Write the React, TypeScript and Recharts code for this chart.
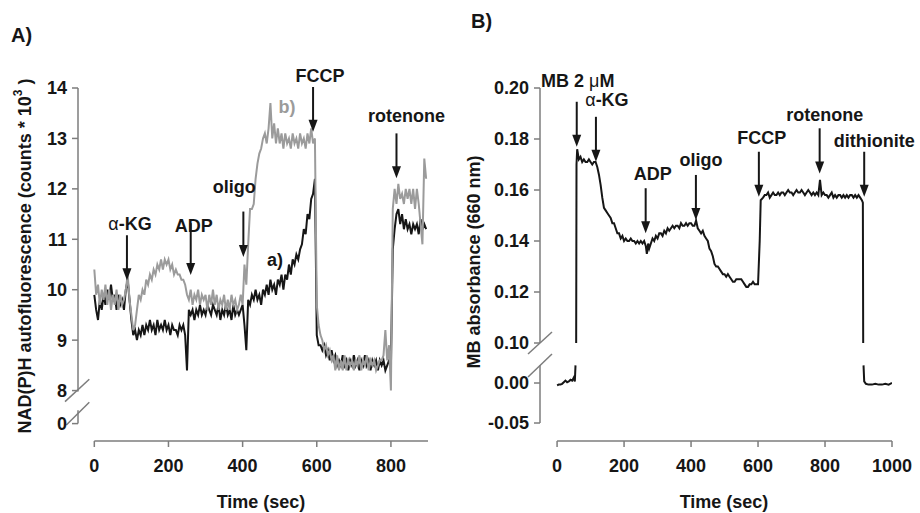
import React from 'react';
import { LineChart, Line, XAxis, YAxis, ReferenceLine } from 'recharts';

const FONT = '"Liberation Sans", Arial, Helvetica, sans-serif';
const AXIS = '#7d7d7d';
const INK = '#161616';
const GREY = '#9b9b9b';

// ---- Panel A: NAD(P)H autofluorescence, one reading every 5 s ----
const STEP_A = 5;
const traceAa = [
  9.9, 9.6, 9.4, 9.8, 9.6, 9.9, 9.7, 10.0, 9.8, 10.1,
  9.8, 9.9, 9.6, 9.9, 9.7, 9.8, 9.6, 10.0, 10.2, 9.8,
  9.4, 9.1, 9.2, 9.0, 9.2, 9.1, 9.3, 9.1, 9.3, 9.2,
  9.4, 9.2, 9.3, 9.1, 9.4, 9.2, 9.3, 9.2, 9.4, 9.2,
  9.3, 9.1, 9.3, 9.2, 9.2, 9.1, 9.3, 9.2, 9.3, 9.1,
  8.4, 9.6, 9.5, 9.6, 9.4, 9.6, 9.5, 9.7, 9.5, 9.6,
  9.5, 9.7, 9.6, 9.5, 9.7, 9.6, 9.5, 9.7, 9.4, 9.6,
  9.5, 9.7, 9.5, 9.6, 9.4, 9.7, 9.5, 9.6, 9.5, 9.6,
  9.7, 9.3, 8.8, 9.8, 9.7, 9.9, 9.8, 10.0, 9.8, 9.9,
  9.7, 10.0, 9.9, 10.1, 9.9, 10.2, 10.0, 10.1, 9.9, 10.2,
  10.1, 10.3, 10.0, 10.3, 10.2, 10.5, 10.3, 10.6, 10.5, 10.7,
  10.6, 10.8, 10.9, 11.2, 11.1, 11.5, 11.4, 11.8, 11.9, 12.2,
  9.1, 8.9, 8.9, 8.8, 8.9, 8.7, 8.8, 8.6, 8.8, 8.6,
  8.7, 8.5, 8.6, 8.5, 8.7, 8.5, 8.6, 8.4, 8.6, 8.5,
  8.7, 8.5, 8.6, 8.4, 8.6, 8.5, 8.7, 8.5, 8.6, 8.4,
  8.6, 8.5, 8.6, 8.4, 8.6, 8.5, 8.6, 8.4, 8.5, 8.6,
  8.5, 10.8, 11.2, 11.5, 11.6, 11.3, 11.5, 11.2, 11.4, 11.2,
  11.3, 11.1, 11.3, 11.2, 11.3, 11.1, 11.4, 11.2, 11.3, 11.2,
];
const traceAb = [
  10.4, 9.9, 10.1, 9.7, 10.0, 9.8, 10.1, 9.7, 10.0, 9.6,
  9.9, 9.7, 10.0, 9.6, 9.9, 9.7, 9.8, 10.0, 10.3, 9.8,
  9.5, 9.2, 9.3, 9.6, 9.9, 9.8, 10.0, 9.9, 10.2, 10.1,
  10.3, 10.2, 10.4, 10.3, 10.5, 10.4, 10.6, 10.4, 10.6, 10.5,
  10.6, 10.4, 10.5, 10.3, 10.4, 10.3, 10.3, 10.2, 10.2, 10.1,
  9.9, 9.8, 10.0, 9.7, 9.9, 9.8, 10.0, 9.7, 9.9, 9.8,
  9.9, 9.6, 9.9, 9.7, 10.0, 9.7, 9.9, 9.6, 9.8, 9.7,
  9.9, 9.6, 9.8, 9.6, 9.9, 9.7, 9.8, 9.6, 9.7, 9.9,
  9.7, 10.5, 10.1, 10.9, 11.6, 11.6, 11.7, 12.2, 12.5, 12.7,
  12.8, 13.0, 13.1, 12.9, 13.2, 13.7, 13.0, 13.3, 12.9, 13.2,
  12.9, 13.1, 12.8, 13.1, 12.9, 13.0, 12.8, 13.1, 12.9, 13.0,
  12.8, 13.1, 12.9, 13.0, 12.8, 13.1, 12.9, 13.2, 12.9, 13.0,
  9.7, 9.3, 9.1, 9.0, 8.8, 8.9, 8.7, 8.8, 8.6, 8.7,
  8.4, 8.7, 8.4, 8.6, 8.4, 8.7, 8.4, 8.6, 8.5, 8.6,
  8.4, 8.6, 8.5, 8.7, 8.4, 8.6, 8.5, 8.7, 8.4, 8.6,
  8.5, 8.6, 8.4, 8.5, 8.6, 8.6, 8.7, 9.2, 8.6, 8.9,
  8.0, 11.6, 12.0, 11.7, 12.1, 11.8, 11.9, 11.7, 12.0, 11.8,
  12.0, 11.7, 12.0, 11.6, 12.0, 11.7, 11.3, 10.9, 12.6, 12.2,
];
const xTicksA = [0, 200, 400, 600, 800];
const yTicksA = [0, 8, 9, 10, 11, 12, 13, 14];
const yTickLabelsA = ['0', '8', '9', '10', '11', '12', '13', '14'];

const arrowLabelsA = ['α-KG', 'ADP', 'oligo', 'FCCP', 'rotenone'];
const arrowTimesA = [88, 260, 402, 590, 815];
const arrowTopsA = [11.08, 11.32, 11.55, 14.02, 13.1];
const arrowTipsA = [10.19, 10.29, 10.65, 13.13, 12.21];

// ---- Panel B: methylene blue absorbance ----
const timeB = [
  0, 5, 10, 15, 20, 25, 30, 35, 40, 45,
  50, 53, 55, 56, 57, 58, 60, 65, 70, 75,
  80, 85, 90, 95, 100, 105, 110, 115, 120, 125,
  130, 135, 140, 145, 150, 155, 160, 165, 170, 175,
  180, 185, 190, 195, 200, 205, 210, 215, 220, 225,
  230, 235, 240, 245, 250, 255, 260, 265, 268, 272,
  275, 280, 285, 290, 295, 300, 305, 310, 315, 320,
  325, 330, 335, 340, 345, 350, 355, 360, 365, 370,
  375, 380, 385, 390, 395, 400, 405, 410, 415, 420,
  425, 430, 435, 440, 445, 450, 455, 460, 465, 470,
  475, 480, 485, 490, 495, 500, 505, 510, 515, 520,
  525, 530, 535, 540, 545, 550, 555, 560, 565, 570,
  575, 580, 585, 590, 595, 600, 605, 608, 615, 620,
  625, 630, 635, 640, 645, 650, 655, 660, 665, 670,
  675, 680, 685, 690, 695, 700, 705, 710, 715, 720,
  725, 730, 735, 740, 745, 750, 755, 760, 765, 770,
  775, 780, 785, 790, 795, 800, 805, 810, 815, 820,
  825, 830, 835, 840, 845, 850, 855, 860, 865, 870,
  875, 880, 885, 890, 895, 900, 905, 910, 913, 914,
  914.5, 915, 917, 922, 930, 940, 950, 960, 970, 980,
  990, 1000,
];
const valueB: (number | null)[] = [
  -0.003, -0.002, -0.002, -0.001, 0.001, 0.003, 0.001, 0.002, 0.004, 0.003,
  0.007, 0.002, 0.022, null, 0.1, 0.17, 0.176, 0.172, 0.173, 0.171,
  0.172, 0.171, 0.171, 0.172, 0.171, 0.17, 0.171, 0.171, 0.169, 0.166,
  0.162, 0.157, 0.153, 0.152, 0.151, 0.15, 0.149, 0.147, 0.147, 0.145,
  0.143, 0.143, 0.141, 0.142, 0.14, 0.141, 0.14, 0.14, 0.141, 0.14,
  0.14, 0.139, 0.14, 0.139, 0.14, 0.139, 0.14, 0.138, 0.135, 0.139,
  0.137, 0.139, 0.141, 0.14, 0.142, 0.141, 0.143, 0.143, 0.142, 0.144,
  0.143, 0.145, 0.144, 0.145, 0.146, 0.145, 0.146, 0.146, 0.145, 0.147,
  0.146, 0.146, 0.147, 0.146, 0.147, 0.147, 0.146, 0.146, 0.148, 0.145,
  0.144, 0.143, 0.144, 0.142, 0.141, 0.14, 0.137, 0.136, 0.134, 0.131,
  0.13, 0.13, 0.129, 0.128, 0.127, 0.127, 0.126, 0.127, 0.126, 0.125,
  0.124, 0.124, 0.125, 0.125, 0.125, 0.125, 0.124, 0.123, 0.122, 0.122,
  0.123, 0.123, 0.124, 0.123, 0.123, 0.123, 0.14, 0.156, 0.157, 0.158,
  0.158, 0.159, 0.157, 0.158, 0.159, 0.158, 0.158, 0.159, 0.158, 0.159,
  0.159, 0.158, 0.159, 0.16, 0.159, 0.159, 0.158, 0.159, 0.16, 0.159,
  0.159, 0.16, 0.159, 0.158, 0.159, 0.16, 0.159, 0.158, 0.159, 0.158,
  0.159, 0.158, 0.164, 0.158, 0.159, 0.158, 0.158, 0.157, 0.158, 0.159,
  0.157, 0.158, 0.157, 0.158, 0.158, 0.157, 0.158, 0.157, 0.158, 0.157,
  0.158, 0.158, 0.157, 0.158, 0.157, 0.158, 0.157, 0.156, 0.155, 0.1,
  null, 0.022, 0.002, -0.001, -0.002, -0.002, -0.001, -0.002, -0.002, -0.001,
  -0.002, 0.0,
];
const xTicksB = [0, 200, 400, 600, 800, 1000];
const yTicksB = [-0.05, 0, 0.1, 0.12, 0.14, 0.16, 0.18, 0.2];
const yTickLabelsB = ['-0.05', '0.00', '0.10', '0.12', '0.14', '0.16', '0.18', '0.20'];

const arrowLabelsB = ['MB 2 μM', 'α-KG', 'ADP', 'oligo', 'FCCP', 'rotenone', 'dithionite'];
const arrowTimesB = [58.7, 116, 264.5, 414.5, 602.5, 784, 917];
const arrowTopsB = [0.1946, 0.1887, 0.1607, 0.1659, 0.175, 0.1842, 0.175];
const arrowTipsB = [0.177, 0.1711, 0.143, 0.1482, 0.1574, 0.1665, 0.1574];

// label placement around each arrow top (px): horizontal shift, gap above
const labelDxA = [3, 3, -9, 7, 10];
const labelGapA = [5, -9, 19, 5, 11];
const labelDxB = [1, 11, 7, 5, 3, 5, 10];
const labelGapB = [15, 11, 8, 9, 8, 7, 5];

// broken axes: lower segments are squeezed under the break
const toA = (v: number) => (v < 4 ? 7.345 + v : v);
const toB = (v: number) => (v < 0.05 ? 0.08431 + v * 0.3137 : v);

const dataA = traceAa.map((a, i) => ({ t: i * STEP_A, a, b: traceAb[i] }));
const dataB = timeB.map((t, i) => ({ t, v: valueB[i] == null ? null : toB(valueB[i] as number) }));

const tickFont = { fontSize: 18, fontWeight: 700, fontFamily: FONT, fill: INK };

const pickLabel = (ticks: number[], labels: string[]) => (v: number) => {
    let best = 0;
    ticks.forEach((t, i) => {
        if (Math.abs(t - v) < Math.abs(ticks[best] - v)) best = i;
    });
    return labels[best];
};

const rich = (s: string) =>
    s.split(/([αμ])/).filter(Boolean).map((part, i) =>
        /[αμ]/.test(part)
            ? <tspan key={i} fontWeight="normal">{part}</tspan>
            : <tspan key={i}>{part}</tspan>
    );

function arrowShape(label: string, dx: number, gap: number) {
    return (p: any) => {
        const { x1, y1, x2, y2 } = p;
        const head = 12;
        return (
            <g>
                <line x1={x1} y1={y1} x2={x2} y2={y2 - head + 1} stroke={INK} strokeWidth={2} />
                <polygon points={`${x2 - 4.5},${y2 - head} ${x2 + 4.5},${y2 - head} ${x2},${y2}`} fill={INK} />
                <text x={x1 + dx} y={y1 - gap} textAnchor="middle" fontFamily={FONT} fontSize={18} fontWeight="bold" fill={INK}>
                    {rich(label)}
                </text>
            </g>
        );
    };
}

function PanelA() {
    const ticks = yTicksA.map(toA);
    return (
        <LineChart width={460} height={513} data={dataA} margin={{ top: 88, right: 32, bottom: 42, left: 18 }}>
            <XAxis
                dataKey="t"
                type="number"
                domain={[-44, 900]}
                ticks={xTicksA}
                interval={0}
                allowDataOverflow
                axisLine={false}
                tickLine={{ stroke: AXIS, strokeWidth: 1.5 }}
                tickSize={6}
                tickMargin={12}
                height={30}
                tick={tickFont}
            />
            <YAxis
                type="number"
                domain={[7, 14]}
                ticks={ticks}
                interval={0}
                allowDataOverflow
                axisLine={false}
                tickLine={{ stroke: AXIS, strokeWidth: 1.5 }}
                tickSize={6}
                tickMargin={5}
                width={60}
                tick={tickFont}
                tickFormatter={pickLabel(ticks, yTickLabelsA)}
            />
            {/* axis lines with break */}
            <ReferenceLine segment={[{ x: -44, y: 7.98 }, { x: -44, y: 14 }]} stroke={AXIS} strokeWidth={1.5} ifOverflow="visible" />
            <ReferenceLine segment={[{ x: -44, y: toA(0) }, { x: -44, y: 7.61 }]} stroke={AXIS} strokeWidth={1.5} ifOverflow="visible" />
            <ReferenceLine segment={[{ x: -79, y: 7.78 }, { x: -13.5, y: 8.224 }]} stroke={AXIS} strokeWidth={1.5} ifOverflow="visible" />
            <ReferenceLine segment={[{ x: -75.5, y: 7.317 }, { x: -13.5, y: 7.768 }]} stroke={AXIS} strokeWidth={1.5} ifOverflow="visible" />
            <ReferenceLine segment={[{ x: 0, y: 7 }, { x: 900, y: 7 }]} stroke={AXIS} strokeWidth={1.5} ifOverflow="visible" />

            <Line dataKey="a" type="linear" stroke={INK} strokeWidth={2} dot={false} isAnimationActive={false} />
            <Line dataKey="b" type="linear" stroke={GREY} strokeWidth={2} dot={false} isAnimationActive={false} />

            {arrowLabelsA.map((label, i) => (
                <ReferenceLine
                    key={label}
                    segment={[{ x: arrowTimesA[i], y: arrowTopsA[i] }, { x: arrowTimesA[i], y: arrowTipsA[i] }]}
                    ifOverflow="visible"
                    shape={arrowShape(label, labelDxA[i], labelGapA[i])}
                />
            ))}
        </LineChart>
    );
}

function PanelB() {
    const ticks = yTicksB.map(toB);
    return (
        <LineChart width={460} height={513} data={dataB} margin={{ top: 88, right: 28, bottom: 42, left: 20 }}>
            <XAxis
                dataKey="t"
                type="number"
                domain={[-51, 1000]}
                ticks={xTicksB}
                interval={0}
                allowDataOverflow
                axisLine={false}
                tickLine={{ stroke: AXIS, strokeWidth: 1.5 }}
                tickSize={6}
                tickMargin={12}
                height={30}
                tick={tickFont}
            />
            <YAxis
                type="number"
                domain={[0.06157, 0.2]}
                ticks={ticks}
                interval={0}
                allowDataOverflow
                axisLine={false}
                tickLine={{ stroke: AXIS, strokeWidth: 1.5 }}
                tickSize={6}
                tickMargin={5}
                width={60}
                tick={tickFont}
                tickFormatter={pickLabel(ticks, yTickLabelsB)}
            />
            <ReferenceLine segment={[{ x: -51, y: 0.1 }, { x: -51, y: 0.2 }]} stroke={AXIS} strokeWidth={1.5} ifOverflow="visible" />
            <ReferenceLine segment={[{ x: -51, y: toB(-0.05) }, { x: -51, y: 0.0914 }]} stroke={AXIS} strokeWidth={1.5} ifOverflow="visible" />
            <ReferenceLine segment={[{ x: -86.8, y: 0.0957 }, { x: -15.2, y: 0.1043 }]} stroke={AXIS} strokeWidth={1.5} ifOverflow="visible" />
            <ReferenceLine segment={[{ x: -86.8, y: 0.0867 }, { x: -15.2, y: 0.0957 }]} stroke={AXIS} strokeWidth={1.5} ifOverflow="visible" />
            <ReferenceLine segment={[{ x: 0, y: 0.06157 }, { x: 1000, y: 0.06157 }]} stroke={AXIS} strokeWidth={1.5} ifOverflow="visible" />

            <Line dataKey="v" type="linear" stroke={INK} strokeWidth={2} dot={false} isAnimationActive={false} />

            {arrowLabelsB.map((label, i) => (
                <ReferenceLine
                    key={label}
                    segment={[{ x: arrowTimesB[i], y: arrowTopsB[i] }, { x: arrowTimesB[i], y: arrowTipsB[i] }]}
                    ifOverflow="visible"
                    shape={arrowShape(label, labelDxB[i], labelGapB[i])}
                />
            ))}
        </LineChart>
    );
}

export default function App() {
    const title = { fontFamily: FONT, fontWeight: 700, fill: INK };
    return (
        <div style={{ position: 'absolute', left: 0, top: 0, width: 920, height: 513, background: '#fff' }}>
            <div style={{ position: 'absolute', left: 0, top: 0 }}>
                <PanelA />
            </div>
            <div style={{ position: 'absolute', left: 460, top: 0 }}>
                <PanelB />
            </div>
            <svg width={920} height={513} style={{ position: 'absolute', left: 0, top: 0, pointerEvents: 'none' }}>
                <text x={11} y={42} fontSize={20} {...title}>A)</text>
                <text x={471} y={28} fontSize={20} {...title}>B)</text>

                <text x={261} y={508} fontSize={18} textAnchor="middle" {...title}>Time (sec)</text>
                <text x={724} y={508} fontSize={18} textAnchor="middle" {...title}>Time (sec)</text>

                <text x={25} y={256} fontSize={18} textAnchor="middle" dominantBaseline="central" transform="rotate(-90 25 256)" {...title}>
                    NAD(P)H autofluorescence (counts * 10<tspan fontSize={12} dy={-7}>3</tspan><tspan dy={7}> )</tspan>
                </text>
                <text x={474} y={262} fontSize={18} textAnchor="middle" dominantBaseline="central" transform="rotate(-90 474 262)" {...title}>
                    MB absorbance (660 nm)
                </text>

                <text x={287} y={113} fontSize={18} textAnchor="middle" fontFamily={FONT} fontWeight={700} fill={GREY}>b)</text>
                <text x={275} y={266} fontSize={18} textAnchor="middle" {...title}>a)</text>
            </svg>
        </div>
    );
}
